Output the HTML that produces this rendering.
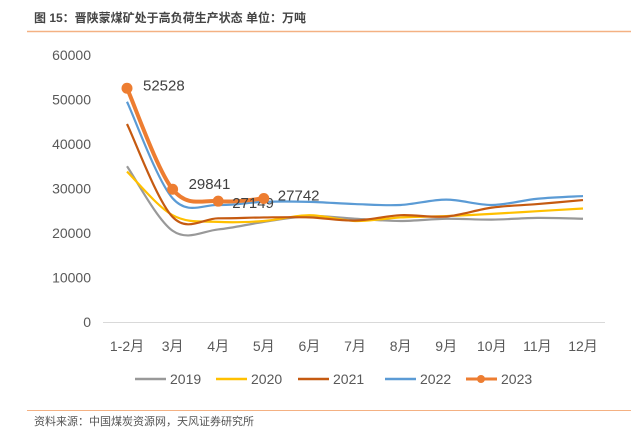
<!DOCTYPE html>
<html><head><meta charset="utf-8"><style>
body{margin:0;background:#fff;}
svg{display:block;font-family:"Liberation Sans","Noto Sans CJK SC",sans-serif;}
</style></head><body>
<svg id="c" width="633" height="435" viewBox="0 0 633 435">
<text x="34" y="22" font-size="12" font-weight="bold" fill="#444">图 15：晋陕蒙煤矿处于高负荷生产状态  单位：万吨</text>
<line x1="27" y1="31.5" x2="631" y2="31.5" stroke="#f4b183" stroke-width="1.5"/>
<line x1="27" y1="410.5" x2="631" y2="410.5" stroke="#f4b183" stroke-width="1"/>
<text x="34" y="425" font-size="11" fill="#555">资料来源：中国煤炭资源网，天风证券研究所</text>
<g id="plot"></g>
</svg>
<script>
const categories=["1-2月","3月","4月","5月","6月","7月","8月","9月","10月","11月","12月"];
const yTicks=[0,10000,20000,30000,40000,50000,60000];
const s2019=[35000,20500,20800,22500,23800,23200,22700,23200,23000,23400,23200];
const s2020=[33800,24000,22500,22700,24000,22700,23500,23800,24300,24900,25500];
const s2021=[44500,23600,23300,23500,23500,22800,24000,23700,25700,26500,27400];
const s2022=[49500,27800,26300,27000,27000,26500,26300,27500,26300,27700,28300];
const s2023=[52528,29841,27149,27742];
const seriesNames=["2019","2020","2021","2022","2023"];
const colors=["#999999","#ffc000","#c55a11","#5b9bd5","#ed7d31"];
const NS="http://www.w3.org/2000/svg";
const g=document.getElementById('plot');
const yTop=55,yBot=322,xFirst=127,xStep=45.6;
function xs(i){return xFirst+i*xStep;}
function ys(v){return yBot-(v/60000)*(yBot-yTop);}
function mk(t,a){const e=document.createElementNS(NS,t);for(const k in a)e.setAttribute(k,a[k]);g.appendChild(e);return e;}
yTicks.forEach(v=>{
 const t=mk('text',{x:91,y:ys(v)+5,'text-anchor':'end','font-size':14,fill:'#595959'});
 
 
 t.textContent=v;
});
const ax=mk('line',{x1:103,x2:605,y1:yBot+0.5,y2:yBot+0.5,stroke:'#d9d9d9','stroke-width':1});


categories.forEach((c,i)=>{
 const t=mk('text',{x:xs(i),y:351,'text-anchor':'middle','font-size':14,fill:'#595959'});
 
 
 t.textContent=c;
});
function path(vals){
 const p=vals.map((v,i)=>[xs(i),ys(v)]);
 let d=`M${p[0][0]},${p[0][1]}`;
 for(let i=0;i<p.length-1;i++){
  const a=p[i-1]||p[i],b=p[i],c=p[i+1],e=p[i+2]||c;
  d+=`C${b[0]+(c[0]-a[0])/6},${b[1]+(c[1]-a[1])/6} ${c[0]-(e[0]-b[0])/6},${c[1]-(e[1]-b[1])/6} ${c[0]},${c[1]}`;
 }
 return d;
}
const all=[s2019,s2020,s2021,s2022,s2023];
all.forEach((s,k)=>{
 const l=mk('path',{d:path(s),fill:'none',stroke:colors[k],'stroke-width':k===4?4:2.2});
 
 
});
s2023.forEach((v,i)=>{
 const c=mk('circle',{cx:xs(i),cy:ys(v),r:5.5,fill:colors[4]});
 
 
 const t=mk('text',{x:xs(i)+(i<2?16:14),y:ys(v)+(i===2?7:i===1?0:2),'font-size':15,fill:'#404040'});
 
 
 t.textContent=v;
});
const lx=[135,216,298,385,466];
seriesNames.forEach((n,k)=>{
 const l=mk('line',{x1:lx[k],x2:lx[k]+31,y1:379,y2:379,stroke:colors[k],'stroke-width':k===4?3:2.5});
 
 
 if(k===4){const c=mk('circle',{cx:lx[k]+15,cy:379,r:4,fill:colors[4]});}
 const t=mk('text',{x:lx[k]+35,y:384,'font-size':14,fill:'#595959'});
 
 
 t.textContent=n;
});
</script>
</body></html>
